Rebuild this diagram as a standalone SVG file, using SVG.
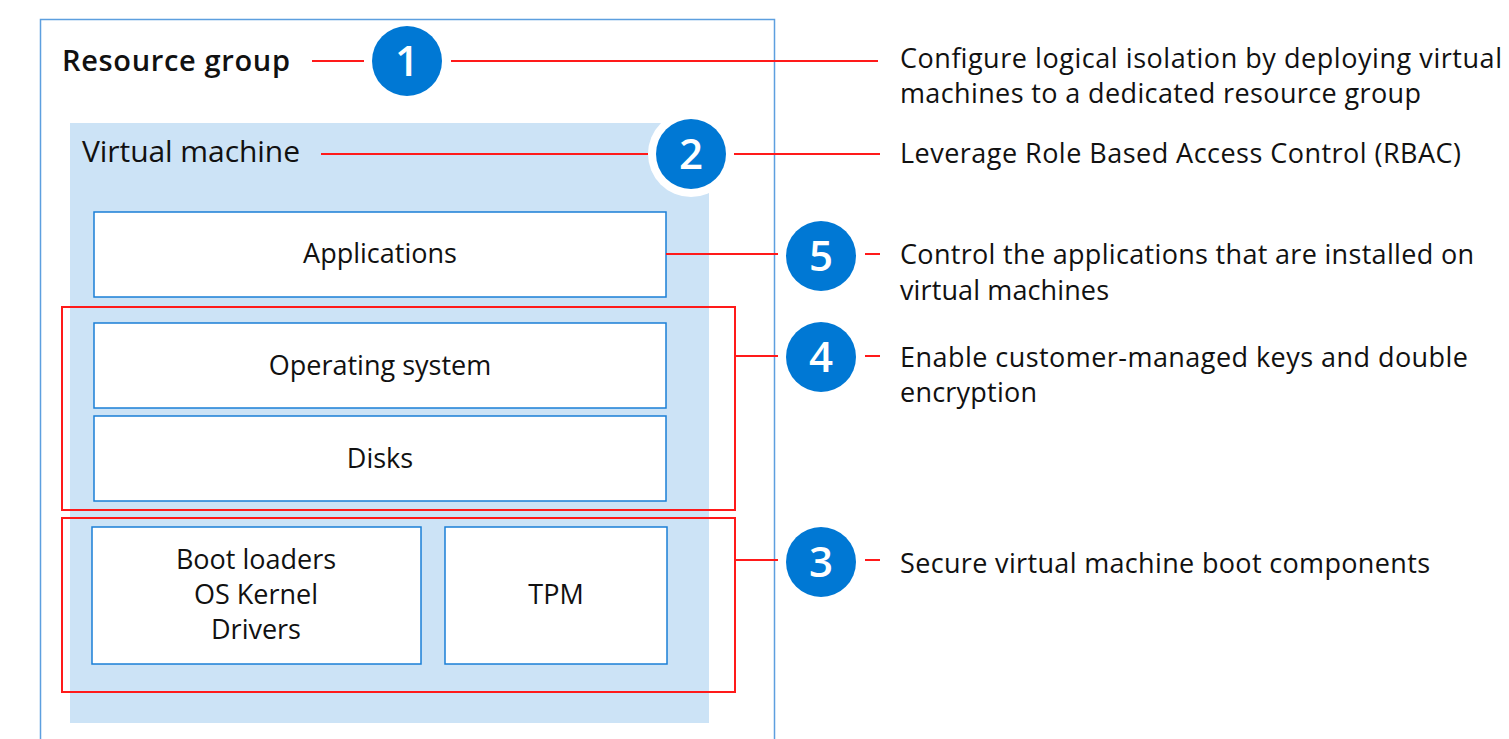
<svg xmlns="http://www.w3.org/2000/svg" width="1509" height="739" viewBox="0 0 1509 739">
<style>
  text { font-family: "Open Sans", "Noto Sans", "Liberation Sans", sans-serif; fill: #111; }
  .body { font-size: 27px; }
  .ctr { text-anchor: middle; }
  .box { fill: #fff; stroke: #1a7fd6; stroke-width: 1.5; }
  .red { fill: none; stroke: #ff1a1a; stroke-width: 2; }
  .num { fill: #0078d4; }
  .numt { font-size: 42px; font-weight: 600; fill: #fff; text-anchor: middle; }
  .conn path { stroke: #ff1a1a; stroke-width: 2; fill: none; }
</style>
<rect width="1509" height="739" fill="#fff"/>
<g id="resource-group">
  <rect x="40.5" y="19.5" width="734" height="740" fill="#fff" stroke="#5d9fdf" stroke-width="1.5"/>
  <text x="62" y="71" style="font-size:29px;font-weight:600" textLength="228">Resource group</text>
</g>
<g id="virtual-machine">
  <rect x="70" y="123" width="639" height="600" fill="#cce3f6"/>
  <text x="82" y="162" style="font-size:30px" textLength="218">Virtual machine</text>
</g>
<g id="applications">
  <rect class="box" x="94" y="212" width="572" height="85"/>
  <text class="body ctr" x="380" y="263">Applications</text>
</g>
<g id="operating-system">
  <rect class="box" x="94" y="323" width="572" height="85"/>
  <text class="body ctr" x="380" y="375">Operating system</text>
</g>
<g id="disks">
  <rect class="box" x="94" y="416" width="572" height="85"/>
  <text class="body ctr" x="380" y="468">Disks</text>
</g>
<g id="boot">
  <rect class="box" x="92" y="527" width="329" height="137"/>
  <text class="body ctr" x="256" y="569">Boot loaders</text>
  <text class="body ctr" x="256" y="604">OS Kernel</text>
  <text class="body ctr" x="256" y="639">Drivers</text>
</g>
<g id="tpm">
  <rect class="box" x="445" y="527" width="222" height="137"/>
  <text class="body ctr" x="556" y="604">TPM</text>
</g>
<g id="group-4">
  <rect class="red" x="62" y="307" width="673" height="203"/>
</g>
<g id="group-3">
  <rect class="red" x="62" y="518" width="673" height="174"/>
</g>
<g class="conn" id="connectors">
  <path d="M312 61H364"/>
  <path d="M451 61H878"/>
  <path d="M321 154H648"/>
  <path d="M734 154H880"/>
  <path d="M666 254H778"/>
  <path d="M865 254H880"/>
  <path d="M735 356H778"/>
  <path d="M865 356H880"/>
  <path d="M735 560H778"/>
  <path d="M865 560H880"/>
</g>
<g id="badge-1">
  <circle class="num" cx="407" cy="61" r="35"/>
  <text class="numt" x="407" y="76">1</text>
</g>
<g id="badge-2">
  <circle cx="691" cy="154" r="43" fill="#fff"/>
  <circle class="num" cx="691" cy="154" r="35"/>
  <text class="numt" x="691" y="169">2</text>
</g>
<g id="badge-5">
  <circle class="num" cx="821" cy="256" r="35"/>
  <text class="numt" x="821" y="271">5</text>
</g>
<g id="badge-4">
  <circle class="num" cx="821" cy="357" r="35"/>
  <text class="numt" x="821" y="372">4</text>
</g>
<g id="badge-3">
  <circle class="num" cx="821" cy="562" r="35"/>
  <text class="numt" x="821" y="577">3</text>
</g>
<g id="descriptions">
  <text class="body" x="900" y="68" textLength="602">Configure logical isolation by deploying virtual</text>
  <text class="body" x="900" y="103" textLength="521">machines to a dedicated resource group</text>
  <text class="body" x="900" y="163" textLength="561">Leverage Role Based Access Control (RBAC)</text>
  <text class="body" x="900" y="264" textLength="574">Control the applications that are installed on</text>
  <text class="body" x="900" y="300" textLength="209">virtual machines</text>
  <text class="body" x="900" y="367" textLength="568">Enable customer-managed keys and double</text>
  <text class="body" x="900" y="402" textLength="137">encryption</text>
  <text class="body" x="900" y="573" textLength="530">Secure virtual machine boot components</text>
</g>
</svg>
